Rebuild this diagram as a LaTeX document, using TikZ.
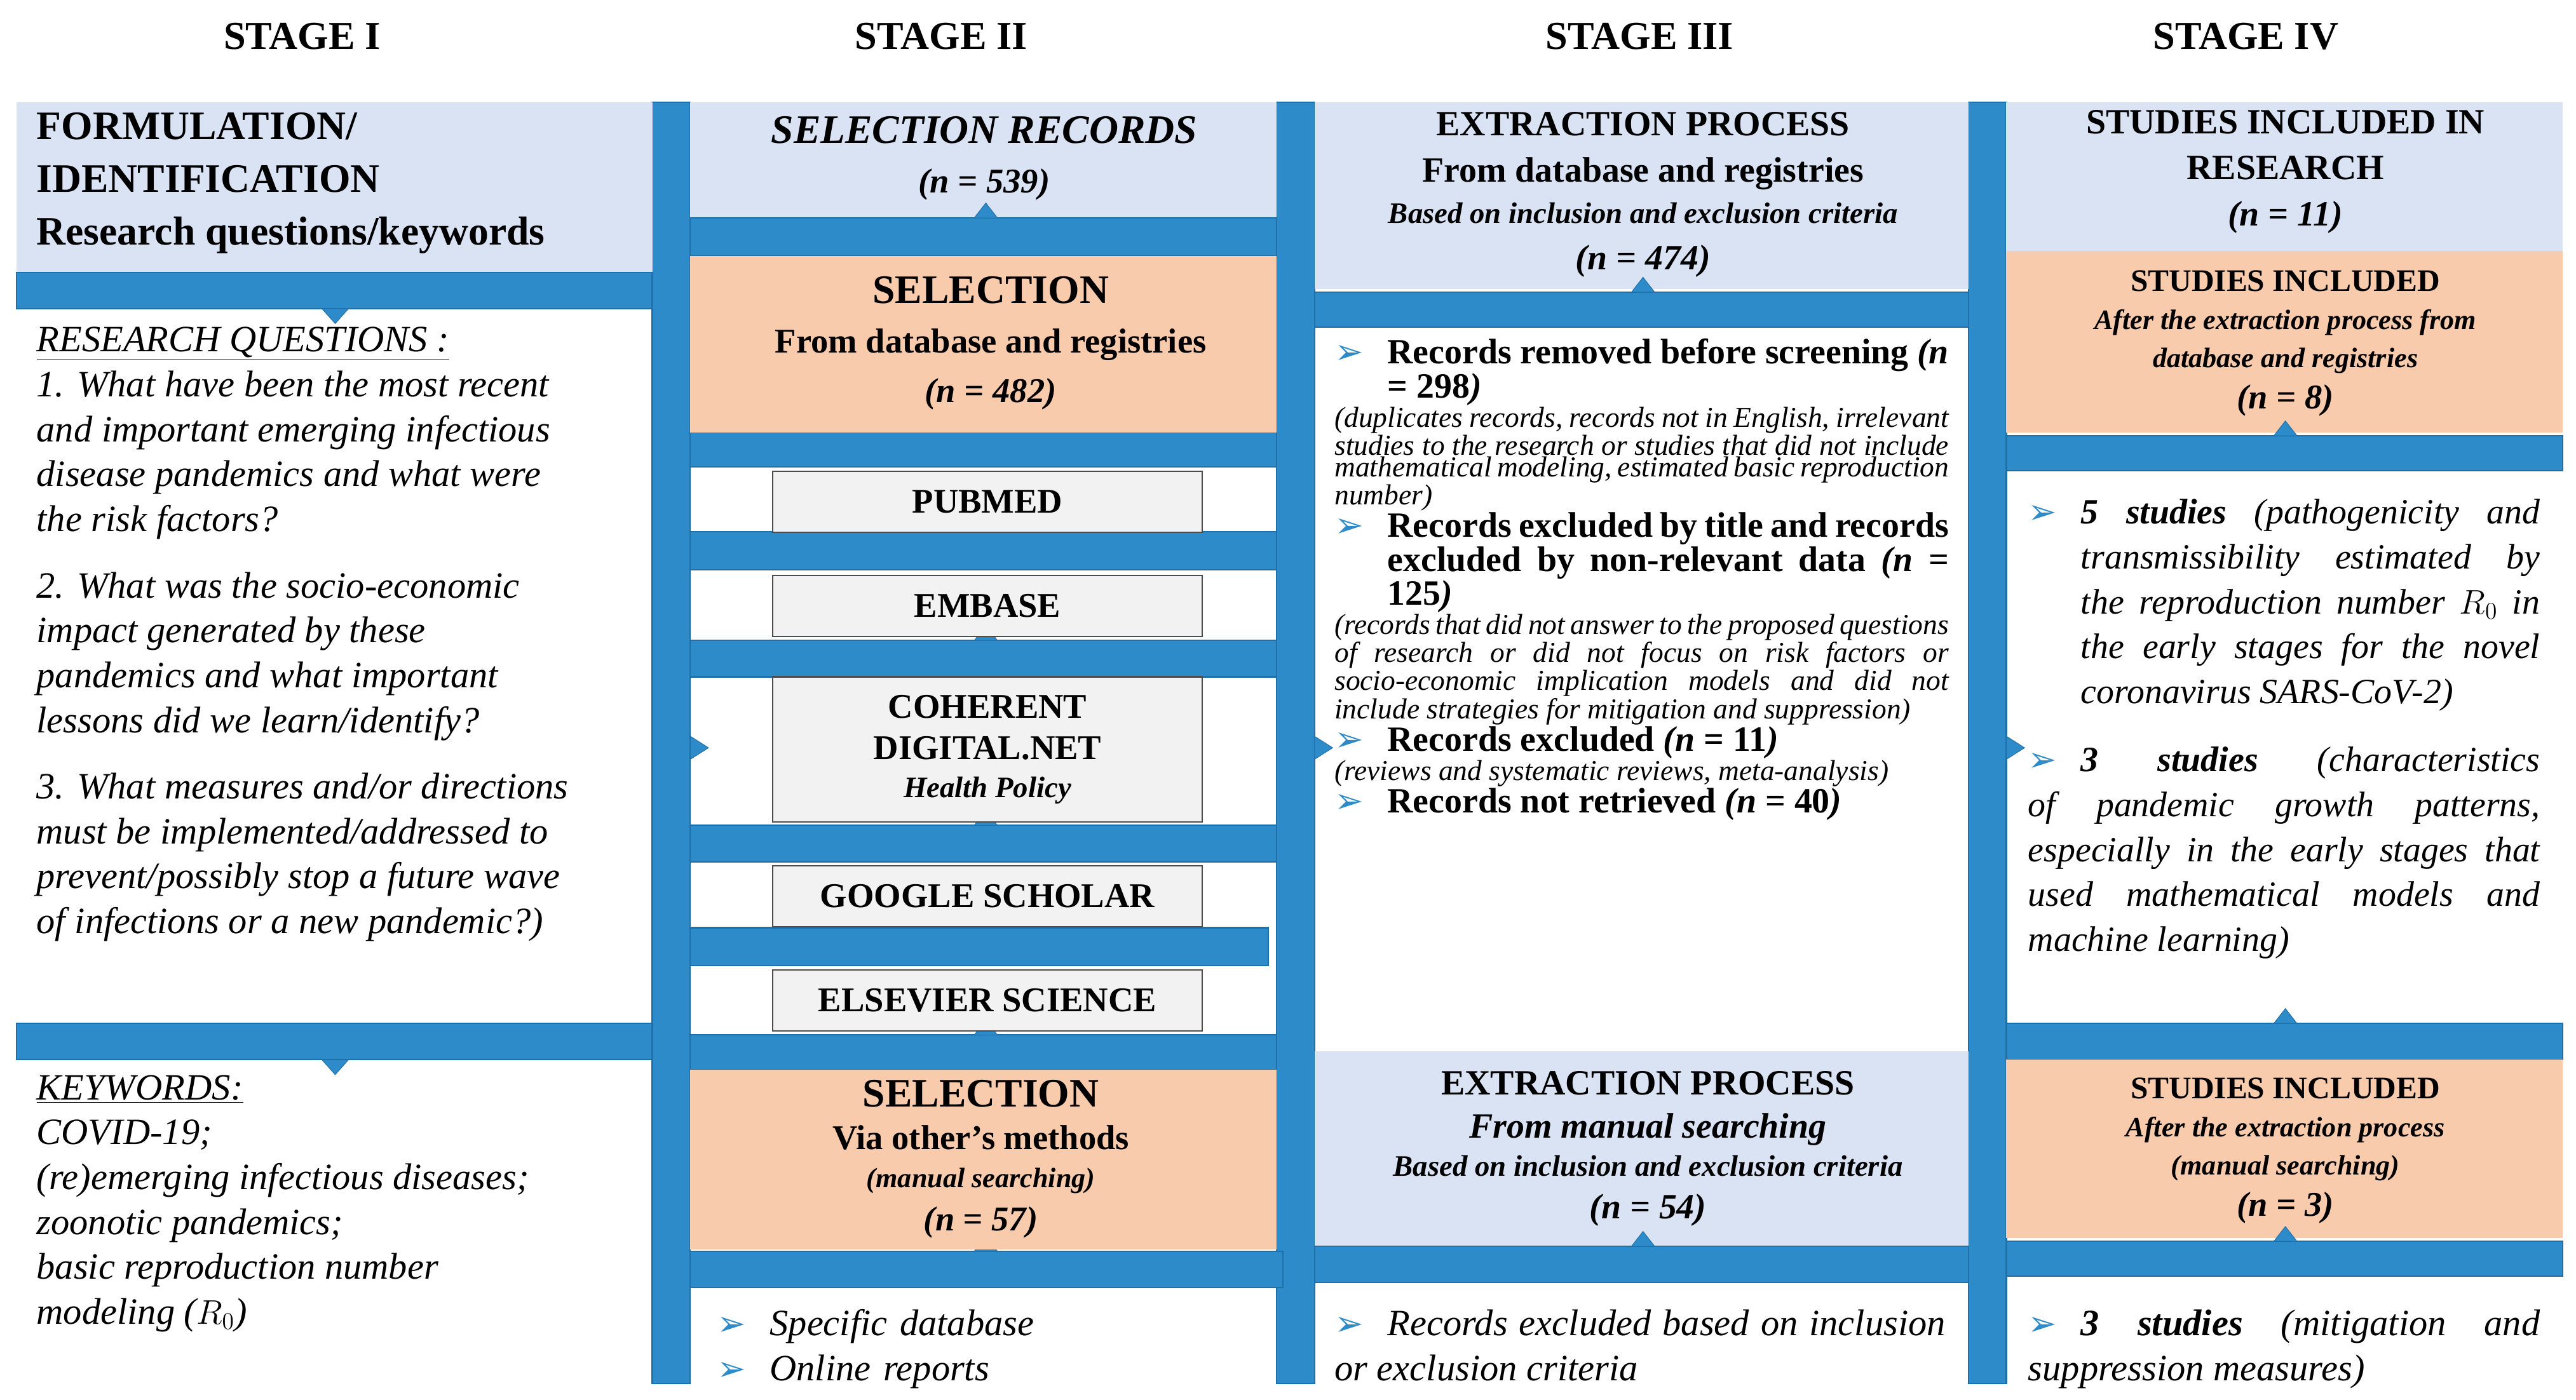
\documentclass[tikz,border=0pt]{standalone}
\usepackage{fontspec}
\setmainfont{Liberation Serif}
\newfontfamily\dv{DejaVu Sans}
\definecolor{lb}{HTML}{DAE3F3}
\definecolor{orn}{HTML}{F8CBAD}
\definecolor{bar}{HTML}{2E8BC9}
\definecolor{bard}{HTML}{1F6FA8}
\definecolor{gry}{HTML}{F2F2F2}
\newcommand{\arr}{{\dv\color{bar}\fontsize{21}{21}\selectfont ➢}}
\newcommand{\bu}[1]{\par\noindent\hangindent=32pt\hangafter=1\makebox[32pt][l]{\arr}{#1}}
\newcommand{\fs}[2]{\fontsize{#1}{#2}\selectfont}
\begin{document}
\begin{tikzpicture}[x=1pt,y=-1pt,
 barf/.style={fill=bar,draw=bard,line width=0.8pt},
 gbox/.style={fill=gry,draw=black!70,line width=0.8pt,align=center,font=\bfseries\fs{21}{25}},
 stg/.style={font=\bfseries\fs{24}{28}},
 tup/.style={fill=bar,draw=bard},
 txt/.style={inner sep=0pt,anchor=north west,execute at begin node={\hyphenpenalty=10000\exhyphenpenalty=10000}}]
\useasboundingbox (0,0) rectangle (1560,848);
\fill[white] (0,0) rectangle (1560,848);
% titles
\node[stg] (s1) at (183,22) {STAGE I};
\node[stg] (s2) at (570,22) {STAGE II};
\node[stg] (s3) at (993,22) {STAGE III};
\node[stg] (s4) at (1360,22) {STAGE IV};
% vertical bars
\foreach \xa/\xb in {395/418,773/796,1192/1215}{
 \draw[barf] (\xa,62) rectangle (\xb,838);
 \fill[tup] (\xb,446) -- (\xb+11,453) -- (\xb,460) -- cycle;}
% ---------------- column 1
\fill[lb] (10,62) rectangle (395,165);
\node[txt,font=\bfseries\fs{24.5}{32},align=left] (c1h) at (22,68) {FORMULATION/\\IDENTIFICATION\\Research questions/keywords};
\draw[barf] (10,165) rectangle (395,187);
\fill[tup] (195,187) -- (211,187) -- (203,196) -- cycle;
\node[txt,font=\itshape\fs{22.5}{27.2},align=left] (c1q) at (22,198) {\underline{RESEARCH QUESTIONS :}\\
1. What have been the most recent\\and important emerging infectious\\disease pandemics and what were\\the risk factors?\\[13pt]
2. What was the socio-economic\\impact generated by these\\pandemics and what important\\lessons did we learn/identify?\\[13pt]
3. What measures and/or directions\\must be implemented/addressed to\\prevent/possibly stop a future wave\\of infections or a new pandemic?)};
\draw[barf] (10,620) rectangle (395,642);
\fill[tup] (195,642) -- (211,642) -- (203,651) -- cycle;
\node[txt,font=\itshape\fs{22.5}{27.2},align=left] (c1k) at (22,651) {\underline{KEYWORDS:}\\COVID-19;\\(re)emerging infectious diseases;\\zoonotic pandemics;\\basic reproduction number\\modeling ($R_0$)};
% ---------------- column 2
\fill[lb] (418,62) rectangle (773,132);
\node[align=center,font=\bfseries\itshape\fs{24.5}{30}] (c2a) at (596,96) {SELECTION RECORDS\\{\fs{21}{26}(n = 539)}};
\foreach \ya/\yb/\xe in {132/155/773,262/283/773,322/345/773,388/410/773,500/522/773,562/585/768,627/648/773,758/780/777}{
 \draw[barf] (418,\ya) rectangle (\xe,\yb);
 \fill[tup] (590,\ya) -- (604,\ya) -- (597,\ya-9) -- cycle;}
\fill[orn] (418,155) rectangle (773,262);
\node[align=center,font=\bfseries\fs{21}{30}] (c2b) at (600,208) {{\fs{24.5}{30}SELECTION}\\From database and registries\\\itshape(n = 482)};
\node[gbox,minimum width=260pt,minimum height=37pt] (pub) at (598,304) {PUBMED};
\node[gbox,minimum width=260pt,minimum height=37pt] (emb) at (598,367) {EMBASE};
\node[gbox,minimum width=260pt,minimum height=88pt] (coh) at (598,454) {COHERENT\\DIGITAL.NET\\[-2pt]{\itshape\fs{18}{20}Health Policy}};
\node[gbox,minimum width=260pt,minimum height=37pt] (goo) at (598,543) {GOOGLE SCHOLAR};
\node[gbox,minimum width=260pt,minimum height=37pt] (els) at (598,606) {ELSEVIER SCIENCE};
\fill[orn] (418,648) rectangle (773,757);
\node[align=center,font=\bfseries\fs{21}{26}] (c2c) at (594,702) {{\fs{24.5}{26}SELECTION}\\Via other’s methods\\[-3pt]{\itshape\fs{17}{22}(manual searching)}\\\itshape(n = 57)};
\node[txt,font=\itshape\fs{22.5}{27},text width=330pt,align=left] (c2d) at (434,782) {\bu{Specific database}\bu{Online reports}};
% ---------------- column 3
\fill[lb] (796,62) rectangle (1192,175);
\node[align=center,font=\bfseries\fs{21.5}{28}] (c3a) at (995,118) {EXTRACTION PROCESS\\From database and registries\\[-3pt]{\itshape\fs{18}{24}Based on inclusion and exclusion criteria}\\\itshape(n = 474)};
\draw[barf] (796,177) rectangle (1192,198);
\fill[tup] (988,177) -- (1002,177) -- (995,168) -- cycle;
\node[txt,text width=372pt,align=justify] (c3b) at (808,204) {%
\bu{\bfseries\fs{21.5}{27}Records removed before screening {\itshape(n} = 298{\itshape)}}
\par\noindent{\itshape\fs{17.5}{24}(duplicates records, records not in English, irrelevant studies to the research or studies that did not include mathematical modeling, estimated basic reproduction number)}
\bu{\bfseries\fs{21.5}{27}Records excluded by title and records excluded by non-relevant data {\itshape(n} = 125{\itshape)}}
\par\noindent{\itshape\fs{17.5}{24}(records that did not answer to the proposed questions of research or did not focus on risk factors or socio-economic implication models and did not include strategies for mitigation and suppression)}
\bu{\bfseries\fs{21.5}{27}Records excluded {\itshape(n} = 11{\itshape)}}
\par\noindent{\itshape\fs{17.5}{24}(reviews and systematic reviews, meta-analysis)}
\bu{\bfseries\fs{21.5}{27}Records not retrieved {\itshape(n} = 40{\itshape)}}};
\fill[lb] (796,637) rectangle (1192,755);
\node[align=center,font=\bfseries\fs{21.5}{26}] (c3c) at (998,696) {EXTRACTION PROCESS\\\itshape From manual searching\\[-3pt]{\itshape\fs{18}{24}Based on inclusion and exclusion criteria}\\\itshape(n = 54)};
\draw[barf] (796,755) rectangle (1192,777);
\fill[tup] (988,755) -- (1002,755) -- (995,746) -- cycle;
\node[txt,font=\itshape\fs{22.5}{27},text width=370pt,align=justify] (c3d) at (808,782) {\bu{Records excluded based on inclusion or exclusion criteria}};
% ---------------- column 4
\fill[lb] (1215,62) rectangle (1552,152);
\node[align=center,font=\bfseries\fs{21.5}{28}] (c4a) at (1384,104) {STUDIES INCLUDED IN\\RESEARCH\\\itshape(n = 11)};
\fill[orn] (1215,152) rectangle (1552,262);
\node[align=center,font=\bfseries\fs{19}{23}] (c4b) at (1384,208) {STUDIES INCLUDED\\{\itshape\fs{17}{23}After the extraction process from}\\{\itshape\fs{17}{23}database and registries}\\[2pt]{\itshape\fs{21}{23}(n = 8)}};
\draw[barf] (1215,264) rectangle (1552,285);
\fill[tup] (1377,264) -- (1391,264) -- (1384,255) -- cycle;
\node[txt,text width=310pt,align=justify,font=\itshape\fs{21.5}{27.2}] (c4c) at (1228,290) {%
\bu{{\bfseries 5 studies} (pathogenicity and transmissibility estimated by the reproduction number $R_0$ in the early stages for the novel coronavirus SARS-CoV-2)}\par\vspace{14pt}
\bu{{\bfseries 3 studies} (characteristics of pandemic growth patterns, especially in the early stages that used mathematical models and machine learning)}};
\draw[barf] (1215,620) rectangle (1552,642);
\fill[tup] (1377,620) -- (1391,620) -- (1384,611) -- cycle;
\fill[orn] (1215,642) rectangle (1552,750);
\node[align=center,font=\bfseries\fs{19}{23}] (c4d) at (1384,697) {STUDIES INCLUDED\\{\itshape\fs{17}{23}After the extraction process}\\{\itshape\fs{17}{23}(manual searching)}\\[2pt]{\itshape\fs{21}{23}(n = 3)}};
\draw[barf] (1215,752) rectangle (1552,773);
\fill[tup] (1377,752) -- (1391,752) -- (1384,743) -- cycle;
\node[txt,font=\itshape\fs{22.5}{27},text width=310pt,align=justify] (c4e) at (1228,782) {\bu{{\bfseries 3 studies} (mitigation and suppression measures)}};
\end{tikzpicture}
\end{document}
